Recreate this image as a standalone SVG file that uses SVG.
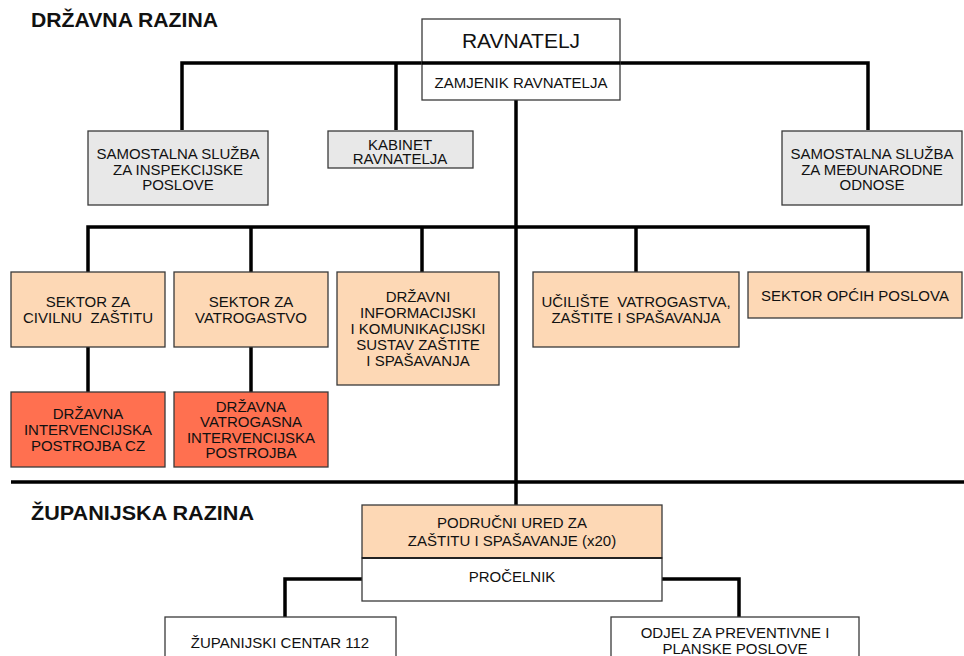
<svg xmlns="http://www.w3.org/2000/svg" width="964" height="656" viewBox="0 0 964 656">
<style>
.bx{stroke:#3a3a3a;stroke-width:1.3}
.g{fill:#e8e8e8}
.p{fill:#fdd8b5}
.r{fill:#ff7050}
.w{fill:#ffffff}
text{font-family:"Liberation Sans",Arial,sans-serif;font-size:15px;fill:#111;text-anchor:middle}
.t{font-weight:bold;font-size:20px;text-anchor:start}
.c{fill:none;stroke:#000;stroke-width:3.5;stroke-linejoin:miter}
</style>
<rect width="964" height="656" fill="#fff"/>
<text class="t" x="31" y="27" textLength="187" lengthAdjust="spacingAndGlyphs">DRŽAVNA RAZINA</text>
<text class="t" x="31" y="520" textLength="223" lengthAdjust="spacingAndGlyphs">ŽUPANIJSKA RAZINA</text>

<g id="connectors">
<path class="c" d="M182,130 V63 H868 V130"/>
<path class="c" d="M396,63 V130"/>
<path class="c" d="M516,100 V505"/>
<path class="c" d="M88,272 V227 H868 V272"/>
<path class="c" d="M251,227 V272"/>
<path class="c" d="M422,227 V272"/>
<path class="c" d="M636,227 V272"/>
<path class="c" d="M88,347 V392"/>
<path class="c" d="M251,347 V392"/>
<path class="c" d="M11,482 H964" stroke-width="3"/>
<path class="c" d="M362,579 H285 V617"/>
<path class="c" d="M662,579 H739 V617"/>
</g>

<g id="ravnatelj">
<rect class="bx w" x="422" y="19" width="198" height="81"/>
<path class="c" d="M422,63 H620"/>
<text x="521" y="48" style="font-size:21px">RAVNATELJ</text>
<text x="521" y="88">ZAMJENIK RAVNATELJA</text>
</g>

<g id="inspekcija">
<rect class="bx g" x="88" y="131" width="180" height="74"/>
<text x="178" y="159">SAMOSTALNA SLUŽBA</text>
<text x="178" y="175">ZA INSPEKCIJSKE</text>
<text x="178" y="190">POSLOVE</text>
</g>

<g id="kabinet">
<rect class="bx g" x="328" y="131" width="145" height="37"/>
<text x="400" y="150">KABINET</text>
<text x="400" y="164">RAVNATELJA</text>
</g>

<g id="medunarodni">
<rect class="bx g" x="782" y="131" width="180" height="74"/>
<text x="872" y="159">SAMOSTALNA SLUŽBA</text>
<text x="872" y="175">ZA MEĐUNARODNE</text>
<text x="872" y="190">ODNOSE</text>
</g>

<g id="sektor-cz">
<rect class="bx p" x="11" y="272" width="154" height="75"/>
<text x="88" y="307">SEKTOR ZA</text>
<text x="88" y="323" xml:space="preserve">CIVILNU  ZAŠTITU</text>
</g>

<g id="sektor-vatrogastvo">
<rect class="bx p" x="174" y="272" width="154" height="75"/>
<text x="251" y="307">SEKTOR ZA</text>
<text x="251" y="323">VATROGASTVO</text>
</g>

<g id="dikss">
<rect class="bx p" x="337" y="272" width="162" height="113"/>
<text x="418" y="302">DRŽAVNI</text>
<text x="418" y="318">INFORMACIJSKI</text>
<text x="418" y="334">I KOMUNIKACIJSKI</text>
<text x="418" y="350">SUSTAV ZAŠTITE</text>
<text x="418" y="366">I SPAŠAVANJA</text>
</g>

<g id="uciliste">
<rect class="bx p" x="533" y="272" width="206" height="75"/>
<text x="636" y="307" xml:space="preserve">UČILIŠTE  VATROGASTVA,</text>
<text x="636" y="323">ZAŠTITE I SPAŠAVANJA</text>
</g>

<g id="opci-poslovi">
<rect class="bx p" x="748" y="272" width="214" height="46"/>
<text x="855" y="301">SEKTOR OPĆIH POSLOVA</text>
</g>

<g id="postrojba-cz">
<rect class="bx r" x="11" y="392" width="154" height="75"/>
<text x="88" y="419">DRŽAVNA</text>
<text x="88" y="435">INTERVENCIJSKA</text>
<text x="88" y="451">POSTROJBA CZ</text>
</g>

<g id="postrojba-vatrogasna">
<rect class="bx r" x="174" y="392" width="154" height="75"/>
<text x="251" y="412">DRŽAVNA</text>
<text x="251" y="427">VATROGASNA</text>
<text x="251" y="443">INTERVENCIJSKA</text>
<text x="251" y="458">POSTROJBA</text>
</g>

<g id="podrucni-ured">
<rect class="bx p" x="362" y="505" width="300" height="53"/>
<rect class="bx w" x="362" y="558" width="300" height="43"/>
<path d="M362,558 H662" stroke="#222" stroke-width="2"/>
<text x="512" y="528">PODRUČNI URED ZA</text>
<text x="512" y="546">ZAŠTITU I SPAŠAVANJE (x20)</text>
<text x="512" y="582">PROČELNIK</text>
</g>

<g id="centar-112">
<rect class="bx w" x="165" y="617" width="231" height="50"/>
<text x="280" y="648">ŽUPANIJSKI CENTAR 112</text>
</g>

<g id="odjel">
<rect class="bx w" x="611" y="617" width="248" height="50"/>
<text x="735" y="638">ODJEL ZA PREVENTIVNE I</text>
<text x="735" y="654">PLANSKE POSLOVE</text>
</g>
</svg>
